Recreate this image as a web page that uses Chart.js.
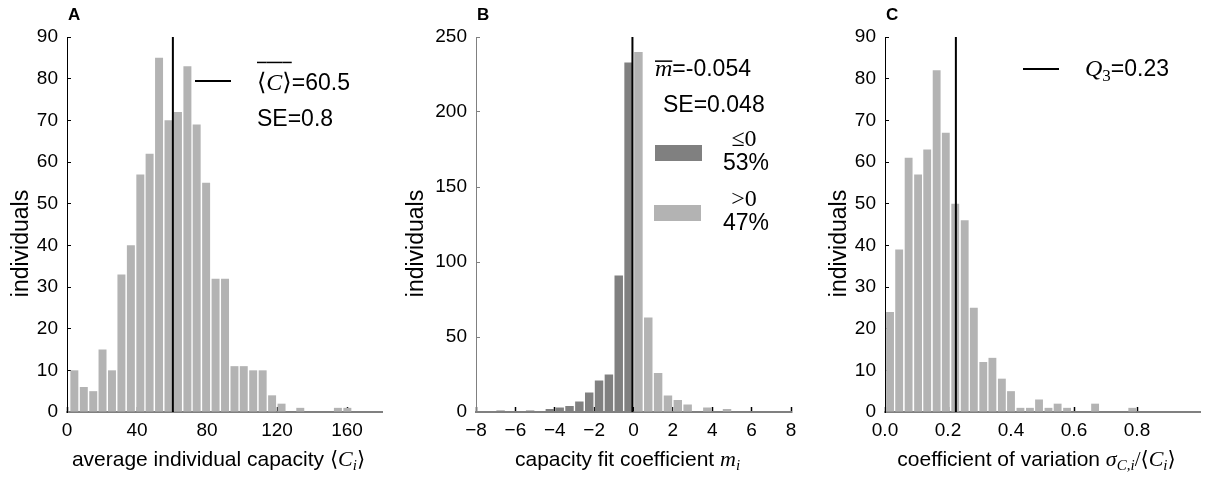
<!DOCTYPE html>
<html>
<head>
<meta charset="utf-8">
<script src="https://cdn.jsdelivr.net/npm/chart.js@4/dist/chart.umd.min.js"></script>
<style>
  body { margin: 0; background: #fff; }
  #wrap { position: relative; width: 1207px; height: 477px; }
  canvas { position: absolute; top: 0; }
</style>
</head>
<body>
<div id="wrap">
  <canvas id="chartA" width="402" height="477" style="left:0px"></canvas>
  <canvas id="chartB" width="402" height="477" style="left:402px"></canvas>
  <canvas id="chartC" width="403" height="477" style="left:804px"></canvas>
</div>
<script>
// --- panel A: average individual capacity
const binsA = [4.2, 9.6, 15.0, 20.3, 25.7, 31.1, 36.5, 41.9, 47.2, 52.6, 58.0, 63.4, 68.8, 74.1, 79.5,
               84.9, 90.3, 95.7, 101.0, 106.4, 111.8, 117.2, 122.6, 127.9, 133.3, 138.7, 144.1, 149.4, 154.8, 160.2];
const countsA = [10, 6, 5, 15, 10, 33, 40, 57, 62, 85, 70, 72, 83, 69, 55,
                 32, 32, 11, 11, 10, 10, 4, 2, 0, 1, 0, 0, 0, 1, 1];
const meanA = 60.5;
const ticksAX = [0, 40, 80, 120, 160];
const ticksAY = [0, 10, 20, 30, 40, 50, 60, 70, 80, 90];

// --- panel B: capacity fit coefficient
const binsBneg = [-6.75, -5.25, -4.25, -3.75, -3.25, -2.75, -2.25, -1.75, -1.25, -0.75, -0.25];
const countsBneg = [1, 1, 2, 3, 4, 7, 13, 21, 25, 91, 233];
const binsBpos = [0.25, 0.75, 1.25, 1.75, 2.25, 2.75, 3.75, 4.75];
const countsBpos = [240, 63, 26, 11, 8, 5, 3, 2];
const meanB = -0.054;
const ticksBX = [-8, -6, -4, -2, 0, 2, 4, 6, 8];
const ticksBY = [0, 50, 100, 150, 200, 250];

// --- panel C: coefficient of variation
const binsC = [0.016, 0.045, 0.075, 0.105, 0.134, 0.164, 0.193, 0.223, 0.253, 0.282, 0.312, 0.341, 0.371, 0.400,
               0.430, 0.460, 0.489, 0.519, 0.548, 0.578, 0.608, 0.637, 0.667, 0.696, 0.726, 0.756, 0.785];
const countsC = [24, 39, 61, 57, 63, 82, 67, 50, 46, 25, 12, 13, 8, 5,
                 1, 1, 3, 1, 2, 1, 0, 0, 2, 0, 0, 0, 1];
const q3C = 0.225;
const ticksCX = [0, 0.2, 0.4, 0.6, 0.8];
const ticksCY = [0, 10, 20, 30, 40, 50, 60, 70, 80, 90];

const light = '#b3b3b3';
const dark = '#808080';
const sans = '"Liberation Sans", Arial, sans-serif';
const serif = '"Liberation Serif", "DejaVu Serif", serif';

function f(size, style) {
    return (style ? style + ' ' : '') + size + 'px ' + sans;
}
function m(size, style) {
    return (style ? style + ' ' : '') + size + 'px ' + serif;
}

// draw a line of mixed fonts: parts = [text, font, dy, overline offset]
function rich(ctx, x, y, parts, align) {
    let total = 0;
    const widths = parts.map(p => {
        ctx.font = p[1];
        const w = ctx.measureText(p[0]).width;
        total += w;
        return w;
    });
    let cx = align === 'center' ? x - total / 2 : x;
    ctx.textAlign = 'left';
    ctx.textBaseline = 'alphabetic';
    ctx.fillStyle = '#000';
    parts.forEach((p, i) => {
        ctx.font = p[1];
        ctx.fillText(p[0], cx, y + (p[2] || 0));
        if (p[3]) ctx.fillRect(cx, y + p[3], widths[i], 1.5);
        cx += widths[i];
    });
}

function common(ctx, a, letter, ylabX) {
    ctx.fillStyle = '#000';
    ctx.font = f(17, 'bold');
    ctx.textAlign = 'left';
    ctx.textBaseline = 'alphabetic';
    ctx.fillText(letter, a.left + 1, 20);
    ctx.save();
    ctx.translate(ylabX, 243.5);
    ctx.rotate(-Math.PI / 2);
    ctx.textAlign = 'center';
    ctx.textBaseline = 'middle';
    ctx.font = f(23);
    ctx.fillText('individuals', 0, 0);
    ctx.restore();
}

function decoA(chart) {
    const ctx = chart.ctx, a = chart.chartArea;
    ctx.save();
    common(ctx, a, 'A', 21.7);
    const xc = (a.left + a.right) / 2 - 6;
    rich(ctx, xc, 466, [['average individual capacity ', f(21)], ['\u27e8', m(21)], ['C', m(22, 'italic')],
        ['i', m(15, 'italic'), 4], ['\u27e9', m(21)]], 'center');
    ctx.fillStyle = '#000';
    ctx.fillRect(a.left + 128, a.top + 43, 36, 2);
    rich(ctx, a.left + 190, a.top + 52.7, [['\u27e8', m(24), 0, -28], ['C', m(24, 'italic'), 0, -28],
        ['\u27e9', m(24), 0, -28], ['=60.5', f(23)]]);
    rich(ctx, a.left + 190, a.top + 88.7, [['SE=0.8', f(23)]]);
    ctx.restore();
}

function decoB(chart) {
    const ctx = chart.ctx, a = chart.chartArea;
    ctx.save();
    common(ctx, a, 'B', 15);
    const xc = (a.left + a.right) / 2 - 6;
    rich(ctx, xc, 466, [['capacity fit coefficient ', f(21)], ['m', m(22, 'italic')], ['i', m(15, 'italic'), 4]], 'center');
    rich(ctx, a.left + 179, a.top + 39.4, [['m', m(24, 'italic'), 0, -16], ['=-0.054', f(23)]]);
    rich(ctx, a.left + 187, a.top + 75.4, [['SE=0.048', f(23)]]);
    ctx.fillStyle = dark;
    ctx.fillRect(a.left + 179, a.top + 108, 47, 16);
    ctx.fillStyle = light;
    ctx.fillRect(a.left + 178, a.top + 168, 47, 16);
    rich(ctx, a.left + 268, a.top + 108.7, [['\u2264', m(24)], ['0', m(24)]], 'center');
    rich(ctx, a.left + 270, a.top + 133.4, [['53%', f(23)]], 'center');
    rich(ctx, a.left + 268, a.top + 169.4, [['>', m(24)], ['0', m(24)]], 'center');
    rich(ctx, a.left + 270, a.top + 193.4, [['47%', f(23)]], 'center');
    ctx.restore();
}

function decoC(chart) {
    const ctx = chart.ctx, a = chart.chartArea;
    ctx.save();
    common(ctx, a, 'C', 36);
    const xc = (a.left + a.right) / 2 - 6;
    rich(ctx, xc, 466, [['coefficient of variation ', f(21)], ['\u03c3', m(22, 'italic')], ['C,i', m(15, 'italic'), 4],
        ['/', m(21)], ['\u27e8', m(21)], ['C', m(22, 'italic')], ['i', m(15, 'italic'), 4], ['\u27e9', m(21)]], 'center');
    ctx.fillStyle = '#000';
    ctx.fillRect(a.left + 138, a.top + 31, 36, 2);
    rich(ctx, a.left + 200, a.top + 39.4, [['Q', m(24, 'italic')], ['3', m(17), 5], ['=0.23', f(23)]]);
    ctx.restore();
}

function pts(xs, ys) {
    return xs.map((x, i) => ({ x: x, y: ys[i] }));
}

function barSet(xs, ys, color) {
    return {
        type: 'bar', data: pts(xs, ys), backgroundColor: color, borderWidth: 0,
        grouped: false, barPercentage: 0.86, categoryPercentage: 1, order: 2
    };
}

function vline(x, top) {
    return {
        type: 'line', data: [{ x: x, y: 0 }, { x: x, y: top }], borderColor: '#000',
        borderWidth: 2, pointRadius: 0, fill: false, order: 1
    };
}

function makeChart(id, datasets, xmin, xmax, xticks, xfmt, ymax, yticks, ycol, yWidth, padRight, deco) {
    return new Chart(document.getElementById(id), {
        type: 'bar',
        data: { datasets: datasets },
        options: {
            responsive: false,
            animation: false,
            layout: { padding: { left: 0, right: padRight, top: 37, bottom: 0 } },
            plugins: { legend: { display: false }, tooltip: { enabled: false } },
            scales: {
                x: {
                    type: 'linear', min: xmin, max: xmax, offset: false, z: 1,
                    afterBuildTicks: s => { s.ticks = xticks.map(v => ({ value: v })); },
                    afterFit: s => { s.height = 65; s.paddingLeft = 0; s.paddingRight = 0; },
                    border: { color: '#808080', width: 2 },
                    grid: { drawOnChartArea: false, offset: false, tickLength: -5, tickColor: '#000', tickWidth: 1.5 },
                    ticks: { padding: 12, color: '#000', font: { family: sans, size: 19 }, maxRotation: 0,
                             autoSkip: false, callback: xfmt }
                },
                y: {
                    min: 0, max: ymax, z: 1,
                    afterBuildTicks: s => { s.ticks = yticks.map(v => ({ value: v })); },
                    afterFit: s => { s.width = yWidth; s.paddingTop = 0; s.paddingBottom = 0; },
                    border: { color: ycol, width: 1 },
                    grid: { drawOnChartArea: false, tickLength: -4, tickColor: ycol, tickWidth: 1 },
                    ticks: { padding: 13, color: '#000', font: { family: sans, size: 19 } }
                }
            }
        },
        plugins: [{ id: 'deco', afterDraw: deco }]
    });
}

makeChart('chartA', [barSet(binsA, countsA, light), vline(meanA, 90)],
    0, 180, ticksAX, v => String(v), 90, ticksAY, '#000', 67, 20, decoA);

makeChart('chartB', [barSet(binsBneg, countsBneg, dark), barSet(binsBpos, countsBpos, light), vline(meanB, 250)],
    -8, 8, ticksBX, v => String(v).replace('-', '\u2212'), 250, ticksBY, '#808080', 74, 13, decoB);

makeChart('chartC', [barSet(binsC, countsC, light), vline(q3C, 90)],
    0, 1.0, ticksCX, v => v.toFixed(1), 90, ticksCY, '#000', 81, 7, decoC);
</script>
</body>
</html>
